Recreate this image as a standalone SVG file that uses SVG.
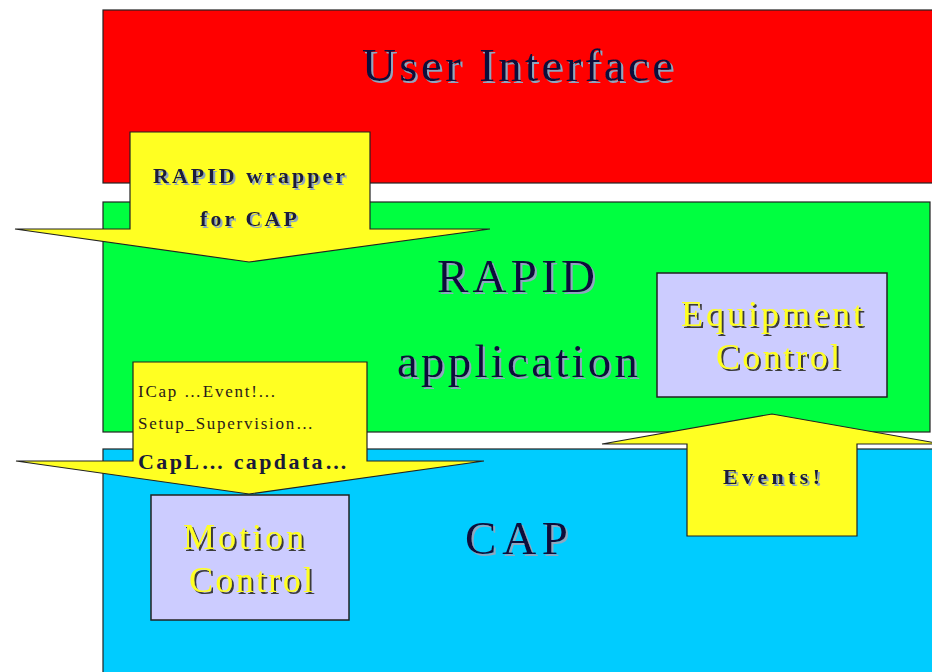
<svg xmlns="http://www.w3.org/2000/svg" width="932" height="672" viewBox="0 0 932 672">
  <defs>
    <!-- soft offset shadow behind the dark layer titles -->
    <filter id="shadowLight" x="-10%" y="-20%" width="130%" height="150%">
      <feOffset in="SourceAlpha" dx="2" dy="2" result="off"/>
      <feFlood flood-color="#8fa6c0"/>
      <feComposite in2="off" operator="in" result="sh"/>
      <feMerge><feMergeNode in="sh"/><feMergeNode in="SourceGraphic"/></feMerge>
    </filter>
    <!-- dark offset shadow behind yellow labels -->
    <filter id="shadowDark" x="-10%" y="-20%" width="130%" height="150%">
      <feOffset in="SourceAlpha" dx="1.5" dy="1.5" result="off"/>
      <feFlood flood-color="#3a3a3a"/>
      <feComposite in2="off" operator="in" result="sh"/>
      <feMerge><feMergeNode in="sh"/><feMergeNode in="SourceGraphic"/></feMerge>
    </filter>
    <style>
      .layer { stroke: #222; stroke-width: 1.2; }
      .box { fill: #ccccff; stroke: #222; stroke-width: 1.5; }
      .arrow { fill: #ffff22; stroke: #222; stroke-width: 1.2; stroke-linejoin: miter; }
      .title { font-family: "Liberation Serif", "Times New Roman", serif; font-size: 47px; fill: #10103a; filter: url(#shadowLight); }
      .inner { font-family: "Liberation Serif", "Times New Roman", serif; font-size: 36px; fill: #ffff22; filter: url(#shadowDark); }
      .lbl { font-family: "Liberation Serif", "Times New Roman", serif; font-weight: bold; font-size: 22px; fill: #1a1a3a; }
      .small { font-family: "Liberation Serif", "Times New Roman", serif; font-size: 17px; fill: #2a1a1a; }
    </style>
  </defs>

  <rect width="932" height="672" fill="#ffffff"/>

  <!-- layer bands -->
  <g id="user-interface">
    <rect class="layer" x="103" y="10" width="840" height="173" fill="#ff0000"/>
    <text class="title" x="362" y="81" font-size="49" textLength="311" lengthAdjust="spacing">User Interface</text>
  </g>
  <g id="rapid-application">
    <rect class="layer" x="103" y="202" width="827" height="230" fill="#00ff40"/>
    <text class="title" x="437" y="292" textLength="158" lengthAdjust="spacing">RAPID</text>
    <text class="title" x="397" y="377" textLength="241" lengthAdjust="spacing">application</text>
  </g>
  <g id="cap">
    <rect class="layer" x="103" y="449" width="840" height="240" fill="#00ccff"/>
    <text class="title" x="465" y="554" textLength="103" lengthAdjust="spacing">CAP</text>
  </g>

  <!-- component boxes -->
  <g id="equipment-control">
    <rect class="box" x="657" y="273" width="230" height="124"/>
    <text class="inner" x="681" y="326" textLength="182" lengthAdjust="spacing">Equipment</text>
    <text class="inner" x="716" y="369" textLength="124" lengthAdjust="spacing">Control</text>
  </g>
  <g id="motion-control">
    <rect class="box" x="151" y="495" width="198" height="125"/>
    <text class="inner" x="183" y="549" textLength="121" lengthAdjust="spacing">Motion</text>
    <text class="inner" x="189" y="592" textLength="124" lengthAdjust="spacing">Control</text>
  </g>

  <!-- block arrows between layers -->
  <g id="connectors">
    <g id="rapid-wrapper">
      <polygon class="arrow" points="130,132 370,132 370,229 490,229 249,262 15,229 130,229"/>
      <text class="lbl" x="153" y="183" textLength="192" lengthAdjust="spacing" filter="url(#shadowLight)">RAPID wrapper</text>
      <text class="lbl" x="200" y="226" textLength="97" lengthAdjust="spacing" filter="url(#shadowLight)">for CAP</text>
    </g>
    <g id="cap-calls">
      <polygon class="arrow" points="133,362 367,362 367,461 484,461 249,494 16,461 133,461"/>
      <text class="small" x="138" y="397" textLength="137" lengthAdjust="spacing">ICap …Event!...</text>
      <text class="small" x="138" y="429" textLength="175" lengthAdjust="spacing">Setup_Supervision…</text>
      <text class="lbl" x="138" y="469" textLength="209" lengthAdjust="spacing" fill="#2a1a1a">CapL… capdata…</text>
    </g>
    <g id="events">
      <polygon class="arrow" points="687,536 857,536 857,444 942,444 772,414 602,444 687,444"/>
      <text class="lbl" x="723" y="484" font-size="23" textLength="97" lengthAdjust="spacing" filter="url(#shadowLight)">Events!</text>
    </g>
  </g>
</svg>
